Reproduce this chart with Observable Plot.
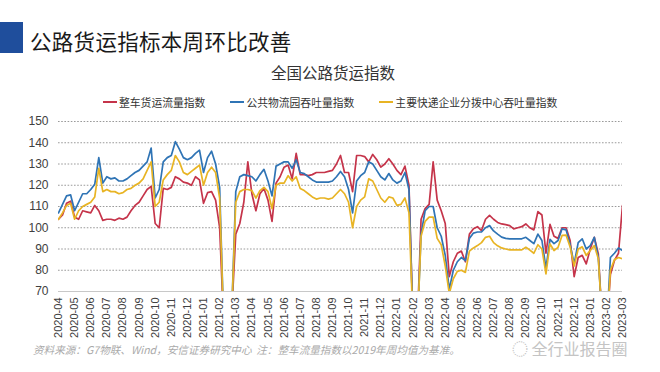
<!DOCTYPE html>
<html><head><meta charset="utf-8">
<script src="https://cdn.jsdelivr.net/npm/d3@7"></script>
<script src="https://cdn.jsdelivr.net/npm/@observablehq/plot@0.6"></script>
<style>
html,body{margin:0;padding:0;background:#fff;}
#wrap{position:relative;width:660px;height:372px;overflow:hidden;background:#fff;font-family:"Noto Sans CJK SC",sans-serif;}
.abs{position:absolute;white-space:nowrap;}
#bar{left:0;top:22px;width:23px;height:31px;background:#1f4e9c;}
#title{left:30px;top:27px;font-size:21.5px;line-height:28px;color:#1a1a1a;letter-spacing:0.3px;}
#sub{left:0;width:660px;text-align:center;top:62px;font-size:15.5px;line-height:20px;color:#333;padding-left:6px;box-sizing:border-box;}
#legend{left:103px;top:94px;font-size:10.8px;line-height:16px;color:#333;display:flex;}
.item{display:flex;align-items:center;margin-right:25px;}
.sw{width:14px;height:2px;margin-right:2px;}
#foot{left:33px;top:342px;font-size:10.6px;line-height:16px;color:#aaa;font-style:italic;font-family:"Noto Sans CJK SC",serif;}
#wm{left:512px;top:336px;font-size:16px;line-height:24px;color:#c4c4c4;}
#plot{left:0;top:100px;}
</style></head>
<body><div id="wrap">
<div id="bar" class="abs"></div>
<div id="title" class="abs">公路货运指标本周环比改善</div>
<div id="sub" class="abs">全国公路货运指数</div>
<div id="legend" class="abs"></div>
<div id="plot" class="abs"></div>
<div id="foot" class="abs">资料来源：G7物联、Wind，安信证券研究中心&nbsp;&nbsp;注：整车流量指数以2019年周均值为基准。</div>
<div id="wm" class="abs">◌ 全行业报告圈</div>
</div>
<script>
const monthLabels = ["2020-04","2020-05","2020-06","2020-07","2020-08","2020-09","2020-10","2020-11","2020-12",
"2021-01","2021-02","2021-03","2021-04","2021-05","2021-06","2021-07","2021-08","2021-09","2021-10","2021-11","2021-12",
"2022-01","2022-02","2022-03","2022-04","2022-05","2022-06","2022-07","2022-08","2022-09","2022-10","2022-11","2022-12",
"2023-01","2023-02","2023-03"];
const yTicks = [70,80,90,100,110,120,130,140,150];
const seriesNames = ["整车货运流量指数","公共物流园吞吐量指数","主要快递企业分拨中心吞吐量指数"];
const seriesColors = ["#c5344a","#2f74b5","#e8b424"];

// weekly positions, in months since 2020-04
const weekPos = d3.range(0, 35.001, 0.25);

const truckFlow = [
104,106,111.5,112.5, 105,104,108,107.5, 107,110.5,108,103.5, 104,104,103.5,104.5,
104,105,108,110.5, 112,115,118,119.5, 102,100,118.5,118, 119,124,123,121.5,
121,120,124,122.5, 111.5,116.5,117,113, 100,55,50,60, 97,102,112,131,
116,108,116,118.5, 113,103,121,124, 128.5,129.5,123,135, 125,125,124.5,125,
126,126,126,126.5, 127,130,134,126, 126,117,134,134, 133.5,131,134.5,132,
128.5,130,132.5,130, 127,125,129,120, 55,50,104,109, 111,131,113,108,
102,77,84,88, 89,84,97,99.5, 100.5,98.7,104,105.8, 104,102.5,101.8,101.5,
101,99.5,100,100.5, 101.8,100,99,107.6, 106,88,101.6,96, 95,100,100,94,
77,86,87,83, 90,95.5,87.7,55, 50,78,84.6,88, 110.5];

const parkThroughput = [
107,111,115,115.5, 108,112,116,116, 118,120.5,133,121, 124,123,123.5,122,
122,123,124.5,126, 127,129,131,137.5, 114,118,131,133, 134,140.5,137,133,
132,133,135,136.5, 126,133,136,130, 119,55,50,60, 117,124,125,124.5,
124,122,125,127.5, 122,115,129,130, 131,131,128,132, 126,125.5,124,122.5,
121.5,121.5,121.5,121.5, 122,124,126.5,124, 118,107,122,124.5, 126,131,130,127,
124,122.5,125.5,122.5, 121,122,126,118, 55,50,97,108, 110,110,100,96,
87,71,80,84, 86,84.5,95,97.5, 98,98,100,101, 98.5,97,95.6,95,
94.8,94.8,94.8,94.8, 95.5,94,92.5,97, 94,81,94.5,92.5, 94,99.5,99,92,
83,93,94.8,90, 91.6,95.5,86,55, 50,86,88,90.5, 89.3];

const expressHub = [
104,107,110.5,111.5, 104,108,110,111, 112,114.5,128,117, 118,117,117,116,
116.5,118,118.5,120, 121,123,127,131, 110,112,122.5,125, 127,134,131,126,
125,126.5,128,129.5, 120,126,128.5,126, 114,55,50,60, 112,117,118,118,
117.5,114,117.5,119, 117,109,120,121, 121,124.5,122,124, 118.5,117.5,116,114.5,
113.5,114,114,113.5, 114,116,118,116, 112,100,110,113, 114.5,123,122,118,
114,112,114.5,114, 110.5,111,114,107, 55,50,96,103, 105,105,95,92,
82,69,76,79.5, 80,79,89,90.5, 91.6,93,95.5,96, 93,91.5,90.5,90,
89.6,89.6,89.6,89.6, 90.8,89.5,88,92, 90,78.3,92.4,89.3, 90.8,96.4,96.5,91,
82,90,91,87, 89.3,91.6,85.4,55, 50,80,85,86, 85.4];

const allSeries = [truckFlow, parkThroughput, expressHub];
const rows = [];
allSeries.forEach((vals, s) => vals.forEach((v, i) => rows.push({x: weekPos[i], y: v, s: seriesNames[s]})));

// legend
const lg = document.getElementById("legend");
seriesNames.forEach((n, i) => {
  const it = document.createElement("div"); it.className = "item";
  it.innerHTML = `<span class="sw" style="background:${seriesColors[i]}"></span><span>${n}</span>`;
  lg.appendChild(it);
});

const chart = Plot.plot({
  width: 660, height: 250,
  marginTop: 21, marginBottom: 59, marginLeft: 58, marginRight: 38,
  style: {fontFamily: "'Liberation Sans', Arial, sans-serif", background: "transparent", overflow: "visible"},
  x: {domain: [0, 35], axis: null},
  y: {domain: [70, 150], axis: null},
  color: {domain: seriesNames, range: seriesColors},
  marks: [
    Plot.ruleY(yTicks.filter(d => d > 70), {stroke: "#9a9a9a", strokeDasharray: "1.6,1.6", strokeWidth: 1}),
    Plot.ruleY([70], {stroke: "#c8c8c8", strokeWidth: 1}),
    Plot.text(yTicks, {y: d => d, frameAnchor: "left", dx: -10, textAnchor: "end", text: d => String(d), fontSize: 12, fill: "#404040"}),
    Plot.text(d3.range(monthLabels.length), {x: d => d, frameAnchor: "bottom", dy: 6, rotate: -90, textAnchor: "end", lineAnchor: "middle", text: d => monthLabels[d], fontSize: 11, fill: "#404040"}),
    Plot.line(rows, {x: "x", y: "y", z: "s", stroke: "s", strokeWidth: 1.7, clip: true})
  ]
});
document.getElementById("plot").appendChild(chart);
</script>
</body></html>
